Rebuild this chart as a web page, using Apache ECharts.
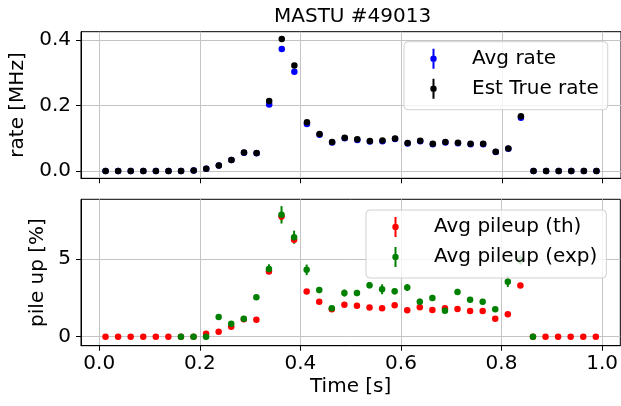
<!DOCTYPE html>
<html>
<head>
<meta charset="utf-8">
<script src="https://cdn.jsdelivr.net/npm/echarts@6/dist/echarts.min.js"></script>
<style>
html,body{margin:0;padding:0;background:#fff;}
#chart{width:621px;height:406px;}
</style>
</head>
<body>
<div id="chart"></div>
<script>
// ---- data ----
const time = [0.0125,0.0375,0.0625,0.0875,0.1125,0.1375,0.1625,0.1875,0.2125,0.2375,
              0.2625,0.2875,0.3125,0.3375,0.3625,0.3875,0.4125,0.4375,0.4625,0.4875,
              0.5125,0.5375,0.5625,0.5875,0.6125,0.6375,0.6625,0.6875,0.7125,0.7375,
              0.7625,0.7875,0.8125,0.8375,0.8625,0.8875,0.9125,0.9375,0.9625,0.9875];
const avgRate = [0,0,0,0,0,0,0,0.002,0.007,0.017,0.034,0.056,0.054,0.203,0.372,0.303,0.1435,0.111,0.087,0.100,
                 0.095,0.090,0.091,0.098,0.084,0.091,0.082,0.087,0.085,0.082,0.082,0.058,0.068,0.163,0,0,0,0,0,0];
const estTrueRate = [0,0,0,0,0,0,0,0.002,0.007,0.017,0.034,0.057,0.055,0.214,0.403,0.322,0.149,0.113,0.0886,0.102,
                     0.097,0.092,0.093,0.0997,0.0855,0.0926,0.0835,0.0886,0.0865,0.0835,0.0835,0.059,0.069,0.167,0,0,0,0,0,0];
const pileupTh = [0,0,0,0,0,0,0,0,0.19,0.32,0.64,1.12,1.09,4.19,7.73,6.23,2.90,2.25,1.76,2.06,
                  1.99,1.87,1.83,2.02,1.70,1.89,1.72,1.83,1.78,1.65,1.65,1.16,1.44,3.30,0,0,0,0,0,0];
const pileupThErr = [0,0,0,0,0,0,0,0,0.02,0.03,0.05,0.08,0.08,0.15,0.25,0.2,0.1,0.08,0.06,0.07,
                     0.07,0.06,0.06,0.07,0.06,0.06,0.06,0.06,0.06,0.06,0.06,0.04,0.05,0.1,0,0,0,0,0,0];
const pileupExp = [null,null,null,null,null,null,0,0,0,1.27,0.84,1.16,2.54,4.36,7.84,6.40,4.30,3.00,1.83,2.81,
                   2.81,3.31,3.05,2.92,3.16,2.25,2.49,1.67,2.88,2.38,2.25,1.76,3.54,4.94,0,null,null,null,null,null];
const pileupExpErr = [null,null,null,null,null,null,0,0,0,0.15,0.12,0.12,0.15,0.3,0.56,0.42,0.34,0.2,0.15,0.23,
                      0.2,0.2,0.32,0.2,0.22,0.2,0.2,0.15,0.2,0.18,0.18,0.15,0.34,0.3,0,null,null,null,null,null];
const xTicks = [0.0,0.2,0.4,0.6,0.8,1.0];
const rateTicks = [0.0,0.2,0.4];
const pileTicks = [0,5];

// ---- helpers ----
const FONT = 'DejaVu Sans';
const FS = 20;
function pairs(xs, ys){ return xs.map((x,i)=> ys[i]==null ? [x,null] : [x, ys[i]]); }
function errTriples(xs, ys, es){
  const out=[]; xs.forEach((x,i)=>{ if(ys[i]!=null && es[i]!=null) out.push([x, ys[i]-es[i], ys[i]+es[i]]); }); return out;
}
function errSeries(idx, data, color){
  return {
    type:'custom', xAxisIndex:idx, yAxisIndex:idx, data:data, silent:true,
    encode:{x:0,y:[1,2]},
    renderItem:function(params, api){
      const p1 = api.coord([api.value(0), api.value(1)]);
      const p2 = api.coord([api.value(0), api.value(2)]);
      return {type:'line', shape:{x1:p1[0],y1:p1[1],x2:p2[0],y2:p2[1]}, style:{stroke:color, lineWidth:2}};
    }
  };
}
// legend icon: errorbar glyph (vertical line + dot) inside a 54x24 box
const ICON = 'path://M0,0L0.01,0L0,0.01Z M54,24L53.99,24L54,23.99Z M19.5,2H21.5V22H19.5Z M17.3,12A3.2,3.2,0,1,1,23.7,12A3.2,3.2,0,1,1,17.3,12Z';

const xAxisBase = (idx, showLabels) => ({
  type:'value', gridIndex:idx, min:-0.03625, max:1.03625,
  axisLine:{show:true, onZero:false, lineStyle:{color:'#000', width:1}},
  axisTick:{show:true, length:5, inside:false, lineStyle:{color:'#000', width:1}, customValues:xTicks},
  axisLabel:{show:showLabels, customValues:xTicks, margin:8, color:'#000', fontFamily:FONT, fontSize:FS,
             formatter:v=>Number(v).toFixed(1)},
  splitLine:{show:true, lineStyle:{color:'#c4c4c4', width:1}},
});

const option = {
  animation:false,
  backgroundColor:'#fff',
  title:{text:'MASTU #49013', left:269, top:2,
         textStyle:{fontFamily:FONT, fontSize:FS, fontWeight:'normal', color:'#000'}},
  grid:[
    {left:81, top:31.7, width:541, height:146.6, show:true, borderColor:'#000', borderWidth:1, backgroundColor:'transparent'},
    {left:81, top:199.3, width:541, height:146.4, show:true, borderColor:'#000', borderWidth:1, backgroundColor:'transparent'}
  ],
  xAxis:[
    xAxisBase(0,false),
    Object.assign(xAxisBase(1,true), {name:'Time [s]', nameLocation:'middle', nameGap:31,
      nameTextStyle:{fontFamily:FONT, fontSize:FS, color:'#000'}})
  ],
  yAxis:[
    {type:'value', gridIndex:0, min:-0.022, max:0.425,
     name:'rate [MHz]', nameLocation:'middle', nameGap:44,
     nameTextStyle:{fontFamily:FONT, fontSize:FS, color:'#000'},
     axisLine:{show:true, onZero:false, lineStyle:{color:'#000', width:1}},
     axisTick:{show:true, length:5, lineStyle:{color:'#000'}, customValues:rateTicks},
     axisLabel:{customValues:rateTicks, margin:10, color:'#000', fontFamily:FONT, fontSize:FS,
                formatter:v=>Number(v).toFixed(1)},
     splitLine:{show:true, lineStyle:{color:'#c4c4c4', width:1}}},
    {type:'value', gridIndex:1, min:-0.58, max:8.84,
     name:'pile up [%]', nameLocation:'middle', nameGap:26,
     nameTextStyle:{fontFamily:FONT, fontSize:FS, color:'#000'},
     axisLine:{show:true, onZero:false, lineStyle:{color:'#000', width:1}},
     axisTick:{show:true, length:5, lineStyle:{color:'#000'}, customValues:pileTicks},
     axisLabel:{customValues:pileTicks, margin:10, color:'#000', fontFamily:FONT, fontSize:FS,
                formatter:v=>String(Math.round(v))},
     splitLine:{show:true, lineStyle:{color:'#c4c4c4', width:1}}}
  ],
  legend:[
    {data:['Avg rate','Est True rate'], orient:'vertical', left:404, top:41.7,
     itemWidth:54, itemHeight:24, itemGap:6, icon:ICON,
     padding:[5,9,9,9], backgroundColor:'rgba(255,255,255,0.8)', borderColor:'#d0d0d0', borderWidth:1, borderRadius:4,
     textStyle:{fontFamily:FONT, fontSize:FS, color:'#000'}},
    {data:['Avg pileup (th)','Avg pileup (exp)'], orient:'vertical', left:366, top:210,
     itemWidth:54, itemHeight:24, itemGap:6, icon:ICON,
     padding:[5,9,9,9], backgroundColor:'rgba(255,255,255,0.8)', borderColor:'#d0d0d0', borderWidth:1, borderRadius:4,
     textStyle:{fontFamily:FONT, fontSize:FS, color:'#000'}}
  ],
  series:[
    {name:'Avg rate', type:'scatter', xAxisIndex:0, yAxisIndex:0, data:pairs(time, avgRate),
     symbol:'circle', symbolSize:6.5, itemStyle:{color:'#0000ff', opacity:1}, z:2},
    {name:'Est True rate', type:'scatter', xAxisIndex:0, yAxisIndex:0, data:pairs(time, estTrueRate),
     symbol:'circle', symbolSize:6.5, itemStyle:{color:'#000000', opacity:1}, z:2},
    Object.assign(errSeries(1, errTriples(time, pileupTh, pileupThErr), '#ff0000'), {z:2}),
    {name:'Avg pileup (th)', type:'scatter', xAxisIndex:1, yAxisIndex:1, data:pairs(time, pileupTh),
     symbol:'circle', symbolSize:6.5, itemStyle:{color:'#ff0000', opacity:1}, z:2},
    Object.assign(errSeries(1, errTriples(time, pileupExp, pileupExpErr), '#008000'), {z:2}),
    {name:'Avg pileup (exp)', type:'scatter', xAxisIndex:1, yAxisIndex:1, data:pairs(time, pileupExp),
     symbol:'circle', symbolSize:6.5, itemStyle:{color:'#008000', opacity:1}, z:2}
  ]
};
const chart = echarts.init(document.getElementById('chart'), null, {renderer:'canvas'});
chart.setOption(option);
</script>
</body>
</html>
